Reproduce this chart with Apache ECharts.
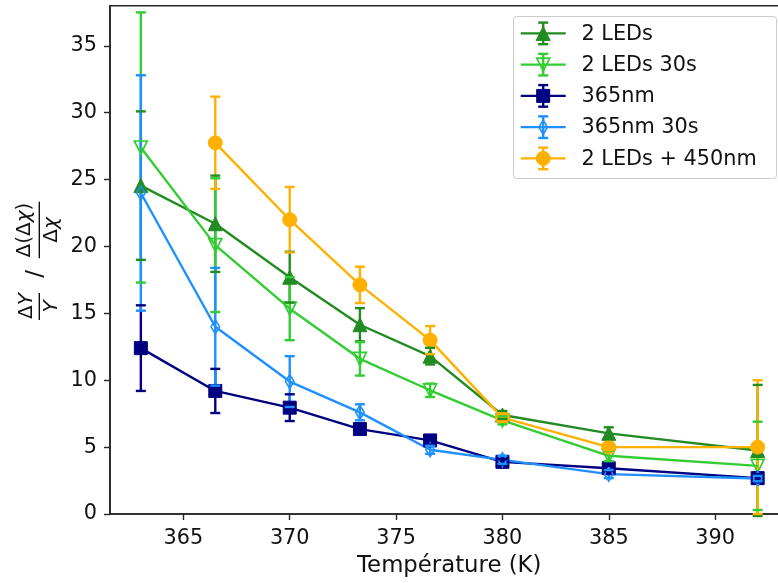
<!DOCTYPE html>
<html>
<head>
<meta charset="utf-8">
<script src="https://cdn.jsdelivr.net/npm/echarts@6/dist/echarts.min.js"></script>
<style>
html,body{margin:0;padding:0;background:#fff;overflow:hidden;width:778px;height:583px;}
#chart{width:790px;height:583px;}
</style>
</head>
<body>
<div id="chart"></div>
<script>
// ---- data ----
const temps = [363, 366.5, 370, 373.3, 376.6, 380, 385, 392];
const seriesNames = ['2 LEDs', '2 LEDs 30s', '365nm', '365nm 30s', '2 LEDs + 450nm'];
const leds2        = [24.55, 21.7, 17.7, 14.15, 11.8, 7.4, 6.03, 4.75];
const leds2Err     = [5.55, 3.6, 1.9, 1.24, 0.62, 0.3, 0.45, 4.9];
const leds2s30     = [27.4, 20.1, 15.35, 11.6, 9.25, 7.0, 4.35, 3.6];
const leds2s30Err  = [10.1, 5.0, 2.36, 1.25, 0.5, 0.3, 0.4, 3.3];
const nm365        = [12.4, 9.2, 7.95, 6.35, 5.5, 3.9, 3.42, 2.68];
const nm365Err     = [3.2, 1.65, 1.0, 0.3, 0.3, 0.2, 0.2, 0.3];
const nm365s30     = [24.0, 14.0, 9.9, 7.6, 4.8, 4.05, 2.98, 2.65];
const nm365s30Err  = [8.8, 4.4, 1.9, 0.6, 0.3, 0.3, 0.3, 0.2];
const leds2nm450   = [null, 27.75, 22.0, 17.13, 13.0, 7.2, 5.0, 5.0];
const leds2nm450Err= [null, 3.45, 2.45, 1.36, 1.05, 0.3, 0.2, 5.0];
const xTicks = [365, 370, 375, 380, 385, 390];
const yTicks = [0, 5, 10, 15, 20, 25, 30, 35];

// ---- styling ----
const FONT = 'DejaVu Sans';
const TXT = '#111';
const AX = '#262626';
const LW = 2.4;
const styles = [
  {color: '#228B22', symbol: 'triangle', size: 14, rotate: 0, hollow: false},
  {color: '#32CD32', symbol: 'triangle', size: 13, rotate: 180, hollow: true},
  {color: '#000080', symbol: 'rect', size: 13, rotate: 0, hollow: false},
  {color: '#1E90FF', symbol: 'diamond', size: [8.5, 14], rotate: 0, hollow: true},
  {color: '#FFB000', symbol: 'circle', size: 14, rotate: 0, hollow: false}
];
const vals = [leds2, leds2s30, nm365, nm365s30, leds2nm450];
const errs = [leds2Err, leds2s30Err, nm365Err, nm365s30Err, leds2nm450Err];

function pts(v) {
  const out = [];
  temps.forEach((t, i) => { if (v[i] != null) out.push([t, v[i]]); });
  return out;
}
function errPts(v, e) {
  const out = [];
  temps.forEach((t, i) => { if (v[i] != null) out.push([t, v[i] - e[i], v[i] + e[i]]); });
  return out;
}
function stemRender(params, api) {
  const p1 = api.coord([api.value(0), api.value(1)]);
  const p2 = api.coord([api.value(0), api.value(2)]);
  return {type: 'line', shape: {x1: p1[0], y1: p1[1], x2: p2[0], y2: p2[1]},
          style: {stroke: api.visual('color'), lineWidth: LW}};
}
function capRender(params, api) {
  const p1 = api.coord([api.value(0), api.value(1)]);
  const p2 = api.coord([api.value(0), api.value(2)]);
  const hw = 5;
  const st = {stroke: api.visual('color'), lineWidth: LW};
  return {type: 'group', children: [
    {type: 'line', shape: {x1: p1[0] - hw, y1: p1[1], x2: p1[0] + hw, y2: p1[1]}, style: st},
    {type: 'line', shape: {x1: p2[0] - hw, y1: p2[1], x2: p2[0] + hw, y2: p2[1]}, style: st}
  ]};
}

const series = [];
vals.forEach((v, k) => {
  const s = styles[k];
  series.push({type: 'custom', name: seriesNames[k] + ' err', z: 1, renderItem: stemRender,
    itemStyle: {color: s.color}, encode: {x: 0, y: [1, 2]}, data: errPts(v, errs[k]), clip: false, silent: true});
});
vals.forEach((v, k) => {
  const s = styles[k];
  series.push({type: 'line', name: seriesNames[k], z: 2, data: pts(v),
    symbol: s.symbol, symbolSize: s.size, symbolRotate: s.rotate, showAllSymbol: true,
    lineStyle: {color: s.color, width: LW},
    itemStyle: s.hollow ? {color: 'rgba(0,0,0,0)', borderColor: s.color, borderWidth: 1.7}
                        : {color: s.color, borderColor: s.color, borderWidth: 1},
    animation: false, silent: true});
});
vals.forEach((v, k) => {
  const s = styles[k];
  series.push({type: 'custom', name: seriesNames[k] + ' caps', z: 3, renderItem: capRender,
    itemStyle: {color: s.color}, encode: {x: 0, y: [1, 2]}, data: errPts(v, errs[k]), clip: false, silent: true});
});

// ---- legend (matplotlib-style, drawn as graphic) ----
const legend = [{type: 'rect', shape: {x: 513.5, y: 16.5, width: 263, height: 162, r: 3},
  style: {fill: 'rgba(255,255,255,0.85)', stroke: '#cccccc', lineWidth: 1}, z: 10}];
seriesNames.forEach((name, k) => {
  const s = styles[k];
  const cy = 33.4 + k * 31.25, cx = 543.2;
  legend.push({type: 'line', shape: {x1: 520.7, y1: cy, x2: 565.7, y2: cy}, style: {stroke: s.color, lineWidth: LW}, z: 11});
  legend.push({type: 'line', shape: {x1: cx, y1: cy - 10.8, x2: cx, y2: cy + 10.8}, style: {stroke: s.color, lineWidth: LW}, z: 11});
  legend.push({type: 'line', shape: {x1: cx - 5, y1: cy - 10.8, x2: cx + 5, y2: cy - 10.8}, style: {stroke: s.color, lineWidth: LW}, z: 11});
  legend.push({type: 'line', shape: {x1: cx - 5, y1: cy + 10.8, x2: cx + 5, y2: cy + 10.8}, style: {stroke: s.color, lineWidth: LW}, z: 11});
  let m;
  if (k === 0) m = {type: 'polygon', shape: {points: [[cx, cy - 7], [cx - 7, cy + 7], [cx + 7, cy + 7]]}, style: {fill: s.color, stroke: s.color, lineWidth: 1}};
  else if (k === 1) m = {type: 'polygon', shape: {points: [[cx, cy + 6.5], [cx - 6.5, cy - 6.5], [cx + 6.5, cy - 6.5]]}, style: {fill: 'rgba(0,0,0,0)', stroke: s.color, lineWidth: 1.7}};
  else if (k === 2) m = {type: 'rect', shape: {x: cx - 6.5, y: cy - 6.5, width: 13, height: 13}, style: {fill: s.color, stroke: s.color, lineWidth: 1}};
  else if (k === 3) m = {type: 'polygon', shape: {points: [[cx, cy - 7], [cx + 4.25, cy], [cx, cy + 7], [cx - 4.25, cy]]}, style: {fill: 'rgba(0,0,0,0)', stroke: s.color, lineWidth: 1.7}};
  else m = {type: 'circle', shape: {cx: cx, cy: cy, r: 7}, style: {fill: s.color, stroke: s.color, lineWidth: 1}};
  m.z = 12;
  legend.push(m);
  legend.push({type: 'text', x: 581.5, y: cy + 0.8, z: 12,
    style: {text: name, font: '20.8px "DejaVu Sans"', fill: TXT, verticalAlign: 'middle', align: 'left'}});
});

// ---- y-axis label (stacked fractions, rotated) ----
const ylab = {type: 'group', x: 39.3, y: 262, rotation: Math.PI / 2, children: [
  {type: 'text', x: -44, y: -12.5, style: {text: '{a|Δ}{b|Y}', align: 'center', verticalAlign: 'middle', fill: TXT,
    rich: {a: {fontFamily: FONT, fontSize: 20, fill: TXT}, b: {fontFamily: FONT, fontSize: 20, fontStyle: 'italic', fill: TXT}}}},
  {type: 'line', shape: {x1: -58, y1: 0, x2: -31, y2: 0}, style: {stroke: TXT, lineWidth: 1.4}},
  {type: 'text', x: -44.5, y: 12.5, style: {text: '{b|Y}', align: 'center', verticalAlign: 'middle', fill: TXT,
    rich: {b: {fontFamily: FONT, fontSize: 20, fontStyle: 'italic', fill: TXT}}}},
  {type: 'text', x: -12, y: -3.5, style: {text: '/', align: 'center', verticalAlign: 'middle', fill: TXT, font: '23px "DejaVu Sans"'}},
  {type: 'text', x: 32, y: -15, style: {text: '{a|Δ(Δ}{b|χ}{a|)}', align: 'center', verticalAlign: 'middle', fill: TXT,
    rich: {a: {fontFamily: FONT, fontSize: 20, fill: TXT}, b: {fontFamily: FONT, fontSize: 20, fontStyle: 'italic', fill: TXT}}}},
  {type: 'line', shape: {x1: 3.7, y1: 0, x2: 60.3, y2: 0}, style: {stroke: TXT, lineWidth: 1.4}},
  {type: 'text', x: 32, y: 12.5, style: {text: '{a|Δ}{b|χ}', align: 'center', verticalAlign: 'middle', fill: TXT,
    rich: {a: {fontFamily: FONT, fontSize: 20, fill: TXT}, b: {fontFamily: FONT, fontSize: 20, fontStyle: 'italic', fill: TXT}}}}
]};

const chart = echarts.init(document.getElementById('chart'), null, {renderer: 'canvas', width: 790, height: 583});
chart.setOption({
  animation: false,
  backgroundColor: '#fff',
  grid: {left: 110, top: 5.7, width: 678.5, height: 510.3, show: true, borderColor: AX, borderWidth: 1.6, backgroundColor: 'transparent', containLabel: false},
  xAxis: {
    type: 'value', min: 361.55, max: 393.45, splitNumber: 5,
    axisLine: {show: true, lineStyle: {color: AX, width: 1.6}},
    axisTick: {show: true, length: 6, inside: false, lineStyle: {color: AX, width: 1.4},
      customValues: xTicks},
    axisLabel: {show: true, margin: 14, fontFamily: FONT, fontSize: 20.8, color: TXT, lineHeight: 21,
      customValues: xTicks},
    splitLine: {show: false},
    name: 'Température (K)', nameLocation: 'middle', nameGap: 41,
    nameTextStyle: {fontFamily: FONT, fontSize: 22.8, color: TXT, lineHeight: 23}
  },
  yAxis: {
    type: 'value', min: 0, max: 38, interval: 5,
    axisLine: {show: true, lineStyle: {color: AX, width: 1.6}},
    axisTick: {show: true, length: 6, inside: false, lineStyle: {color: AX, width: 1.4}, customValues: yTicks},
    axisLabel: {show: true, margin: 13, fontFamily: FONT, fontSize: 20.8, color: TXT, customValues: yTicks},
    splitLine: {show: false}
  },
  series: series,
  graphic: [ylab].concat(legend)
});
</script>
</body>
</html>
